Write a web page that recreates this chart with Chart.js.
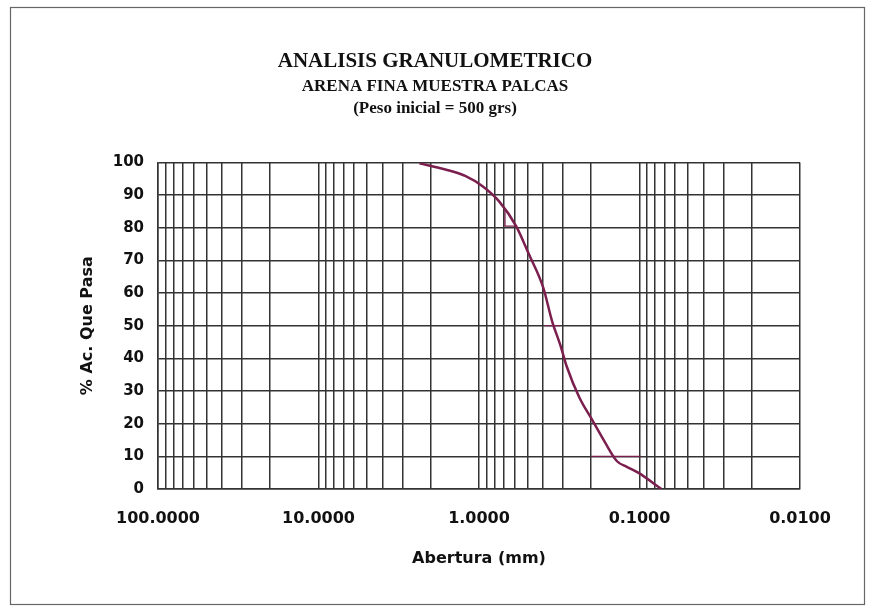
<!DOCTYPE html>
<html lang="es">
<head>
    <meta charset="UTF-8">
    <title>Analisis Granulometrico</title>
    <script src="https://cdn.jsdelivr.net/npm/chart.js"></script>
    <style>
        body { margin: 0; background: #fff; }
        #wrap { width: 872px; height: 612px; }
    </style>
</head>
<body>
    <div id="wrap"><canvas id="granulo" width="872" height="612"></canvas></div>

    <script>
        // abertura del tamiz (mm) y % acumulado que pasa
        const aberturas = [2.35, 1.64, 1.21, 0.95, 0.747, 0.587, 0.49, 0.397, 0.351, 0.311, 0.284, 0.237, 0.198, 0.165, 0.138, 0.12, 0.102, 0.073];
        const pasa = [99.7, 97.9, 95.8, 92.7, 88.0, 80.5, 72.0, 61.5, 51.5, 44.0, 37.5, 28.0, 21.3, 14.5, 8.5, 6.8, 5.0, 0];

        // trazos cortos que aparecen sobre la curva (abertura, %)
        const trazosX = [0.689, 0.689, 0.597, null, 0.388, 0.311, null, 0.2, 0.098];
        const trazosY = [85.6, 80.5, 80.5, null, 50, 50, null, 10, 10];

        // lineas verticales del papel logaritmico
        const decadas = [0.01, 0.1, 1, 10];
        const divisiones = [1, 2, 3, 4, 5, 6, 7, 8, 9];
        const yTicks = [0, 10, 20, 30, 40, 50, 60, 70, 80, 90, 100];

        const xGrid = [];
        decadas.forEach(d => divisiones.forEach(k => xGrid.push(+(d * k).toPrecision(3))));
        xGrid.push(100);

        const esPotencia = v => Math.abs(Math.log10(v) - Math.round(Math.log10(v))) < 1e-9;

        const marco = {
            id: "marco",
            beforeDraw(chart) {
                const ctx = chart.ctx;
                ctx.save();
                ctx.fillStyle = "#fff";
                ctx.fillRect(0, 0, chart.width, chart.height);
                ctx.strokeStyle = "#666";
                ctx.lineWidth = 1.2;
                ctx.strokeRect(10.5, 7.5, 854, 597);
                ctx.restore();
            }
        };

        const sans = "'DejaVu Sans', Verdana, sans-serif";
        const serif = "'Liberation Serif', 'Times New Roman', serif";

        new Chart(document.getElementById("granulo"), {
            type: "scatter",
            data: {
                datasets: [{
                    label: "% Ac. Que Pasa",
                    data: aberturas.map((a, i) => ({ x: a, y: pasa[i] })),
                    showLine: true,
                    cubicInterpolationMode: "monotone",
                    borderColor: "#7a1f4e",
                    borderWidth: 2.5,
                    pointRadius: 0
                }, {
                    label: "trazos",
                    data: trazosX.map((a, i) => ({ x: a, y: trazosY[i] })),
                    showLine: true,
                    spanGaps: false,
                    borderColor: "#7a1f4e",
                    borderWidth: 1.3,
                    pointRadius: 0
                }]
            },
            options: {
                responsive: false,
                animation: false,
                layout: { padding: { left: 70, right: 72, bottom: 30, top: 0 } },
                plugins: {
                    legend: { display: false },
                    tooltip: { enabled: false },
                    title: {
                        display: true,
                        text: "ANALISIS GRANULOMETRICO",
                        color: "#111",
                        font: { family: serif, size: 21, weight: "bold" },
                        padding: { top: 49, bottom: 0 }
                    },
                    subtitle: {
                        display: true,
                        text: ["ARENA FINA MUESTRA PALCAS", "(Peso inicial = 500 grs)"],
                        color: "#111",
                        font: { family: serif, size: 17, weight: "bold", lineHeight: 1.3 },
                        padding: { top: 1, bottom: 43 }
                    }
                },
                scales: {
                    x: {
                        type: "logarithmic",
                        reverse: true,
                        min: 0.01,
                        max: 100,
                        afterBuildTicks: s => { s.ticks = xGrid.map(v => ({ value: v })); },
                        afterFit: s => { s.height = 93; },
                        grid: { color: "#333", lineWidth: 1.5, drawTicks: false },
                        border: { color: "#333", width: 1.5 },
                        ticks: {
                            autoSkip: false,
                            maxRotation: 0,
                            padding: 20,
                            color: "#111",
                            font: { family: sans, size: 16, weight: "bold" },
                            callback: v => esPotencia(v) ? Number(v).toFixed(4) : ""
                        },
                        title: {
                            display: true,
                            text: "Abertura (mm)",
                            color: "#111",
                            font: { family: sans, size: 16, weight: "bold" },
                            padding: { top: 0, bottom: 14 }
                        }
                    },
                    y: {
                        min: 0,
                        max: 100,
                        afterBuildTicks: s => { s.ticks = yTicks.map(v => ({ value: v })); },
                        afterFit: s => { s.width = 88; },
                        grid: { color: "#333", lineWidth: 1.5, drawTicks: false },
                        border: { color: "#333", width: 1.5 },
                        ticks: {
                            padding: 14,
                            color: "#111",
                            font: { family: sans, size: 15, weight: "bold" }
                        },
                        title: {
                            display: true,
                            text: "% Ac. Que Pasa",
                            color: "#111",
                            font: { family: sans, size: 16, weight: "bold" },
                            padding: { top: 8, bottom: 0 }
                        }
                    }
                }
            },
            plugins: [marco]
        });
    </script>
</body>
</html>
